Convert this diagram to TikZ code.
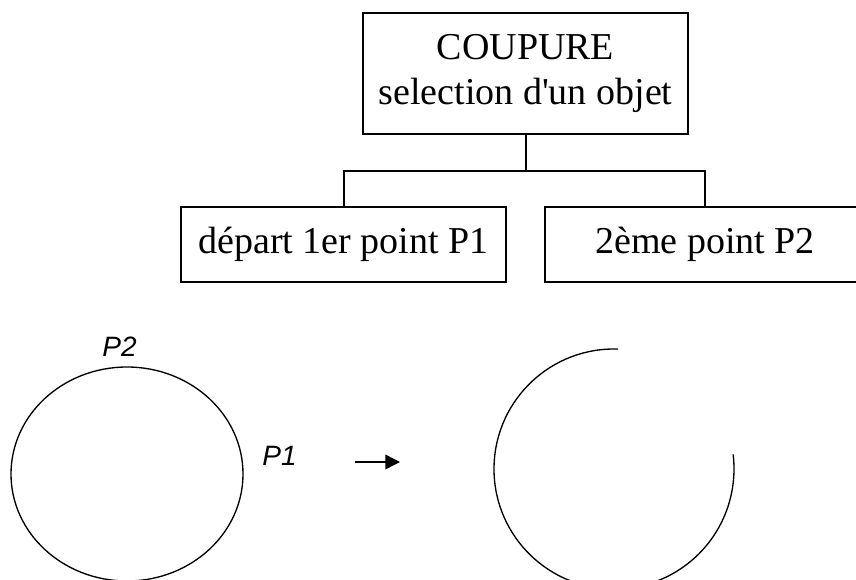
\documentclass[tikz,border=0pt]{standalone}
\usepackage{fontspec}
\setmainfont{Liberation Serif}
\newfontfamily\labelfont{Liberation Sans}
\usetikzlibrary{arrows.meta}

\begin{document}
\begin{tikzpicture}[x=0.75pt,y=0.75pt,line width=1.5pt,>={Triangle[length=11pt,width=11pt]},
                    box/.style={shape=rectangle,draw,inner sep=0pt,align=center,
                                font=\fontsize{28.5}{33.75}\selectfont},
                    pointlabel/.style={font=\labelfont\itshape\fontsize{21}{25}\selectfont},
                    thin line/.style={line width=1pt}]
  \useasboundingbox (0,0) rectangle (856,579);
  \clip (0,0) rectangle (856,579);
  \node[box,minimum width=243.75pt,minimum height=90.75pt] (cut) at (525.5,505.5) {COUPURE\\selection d\textquotesingle un objet};
  \node[box,minimum width=243.75pt,minimum height=56.25pt] (first) at (343.5,334.5) {départ 1er point P1};
  \node[box,minimum width=240pt,minimum height=56.25pt] (second) at (705,334.5) {2ème point P2};
  \coordinate (fork) at (525.5,408);
  \draw (cut) -- (fork);
  \draw (first) |- (fork) -| (second);

  % before the cut
  \draw[thin line] (127,105) ellipse [x radius=116,y radius=107];
  \node[pointlabel] (ptwo) at (119.5,232.5) {P2};
  \node[pointlabel] (pone) at (279.5,123) {P1};
  \coordinate (arrowstart) at (355,117);
  \coordinate (arrowend) at (400,117);
  \draw[->,line width=1.1pt] (arrowstart) -- (arrowend);
  % after the cut
  \draw[thin line] (614,110) ++(88:120) arc[start angle=88,end angle=367,radius=120];
\end{tikzpicture}
\end{document}
